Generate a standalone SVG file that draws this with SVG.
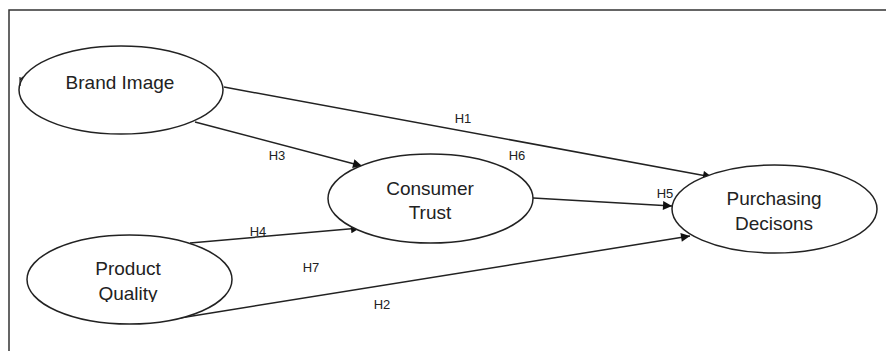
<svg xmlns="http://www.w3.org/2000/svg" width="886" height="351" viewBox="0 0 886 351">
<style>
.node ellipse{fill:#fff;stroke:#222;stroke-width:1.5}
.node text{font-family:"Liberation Sans",Arial,sans-serif;font-size:19px;fill:#222;text-anchor:middle}
.conn line{stroke:#222;stroke-width:1.5;fill:none}
.lbl{font-family:"Liberation Sans",Arial,sans-serif;font-size:13px;fill:#222;text-anchor:middle}
</style>
<defs>
<marker id="arr" viewBox="0 0 10 10" refX="10" refY="5" markerWidth="12" markerHeight="9" markerUnits="userSpaceOnUse" orient="auto">
<path d="M0,0 L10,5 L0,10 z" fill="#111"/>
</marker>
<clipPath id="pqclip"><rect x="0" y="0" width="886" height="302"/></clipPath>
</defs>
<rect x="0" y="0" width="886" height="351" fill="#fff"/>
<path d="M9,351 V10 H886" fill="none" stroke="#333" stroke-width="1.5"/>
<g class="conn">
<line x1="224" y1="87" x2="712" y2="177" marker-end="url(#arr)"/>
<line x1="195" y1="122" x2="362" y2="166" marker-end="url(#arr)"/>
<line x1="190" y1="243" x2="360" y2="228" marker-end="url(#arr)"/>
<line x1="180" y1="318" x2="690" y2="236" marker-end="url(#arr)"/>
<line x1="533" y1="198" x2="672" y2="206" marker-end="url(#arr)"/>
</g>
<g id="labels">
<text class="lbl" x="463" y="123">H1</text>
<text class="lbl" x="517" y="160">H6</text>
<text class="lbl" x="277" y="160">H3</text>
<text class="lbl" x="258" y="236">H4</text>
<text class="lbl" x="311" y="272">H7</text>
<text class="lbl" x="382" y="309">H2</text>
<text class="lbl" x="665" y="198">H5</text>
</g>
<g id="brand-image" class="node">
<ellipse cx="121" cy="90" rx="102" ry="44"/>
<text x="120" y="89">Brand Image</text>
<path d="M20,77 L20,86 M20,80 L23,77" fill="none" stroke="#222" stroke-width="1.2"/>
</g>
<g id="consumer-trust" class="node">
<ellipse cx="430.5" cy="198.5" rx="102.5" ry="44.5"/>
<text x="430" y="195">Consumer</text>
<text x="430" y="219">Trust</text>
</g>
<g id="product-quality" class="node">
<ellipse cx="129.5" cy="279.5" rx="102.5" ry="44.5"/>
<g clip-path="url(#pqclip)">
<text x="128" y="275">Product</text>
<text x="128" y="300">Quality</text>
</g>
</g>
<g id="purchasing-decisions" class="node">
<ellipse cx="774.5" cy="209" rx="102.5" ry="44"/>
<text x="774" y="205">Purchasing</text>
<text x="774" y="230">Decisons</text>
</g>
</svg>
